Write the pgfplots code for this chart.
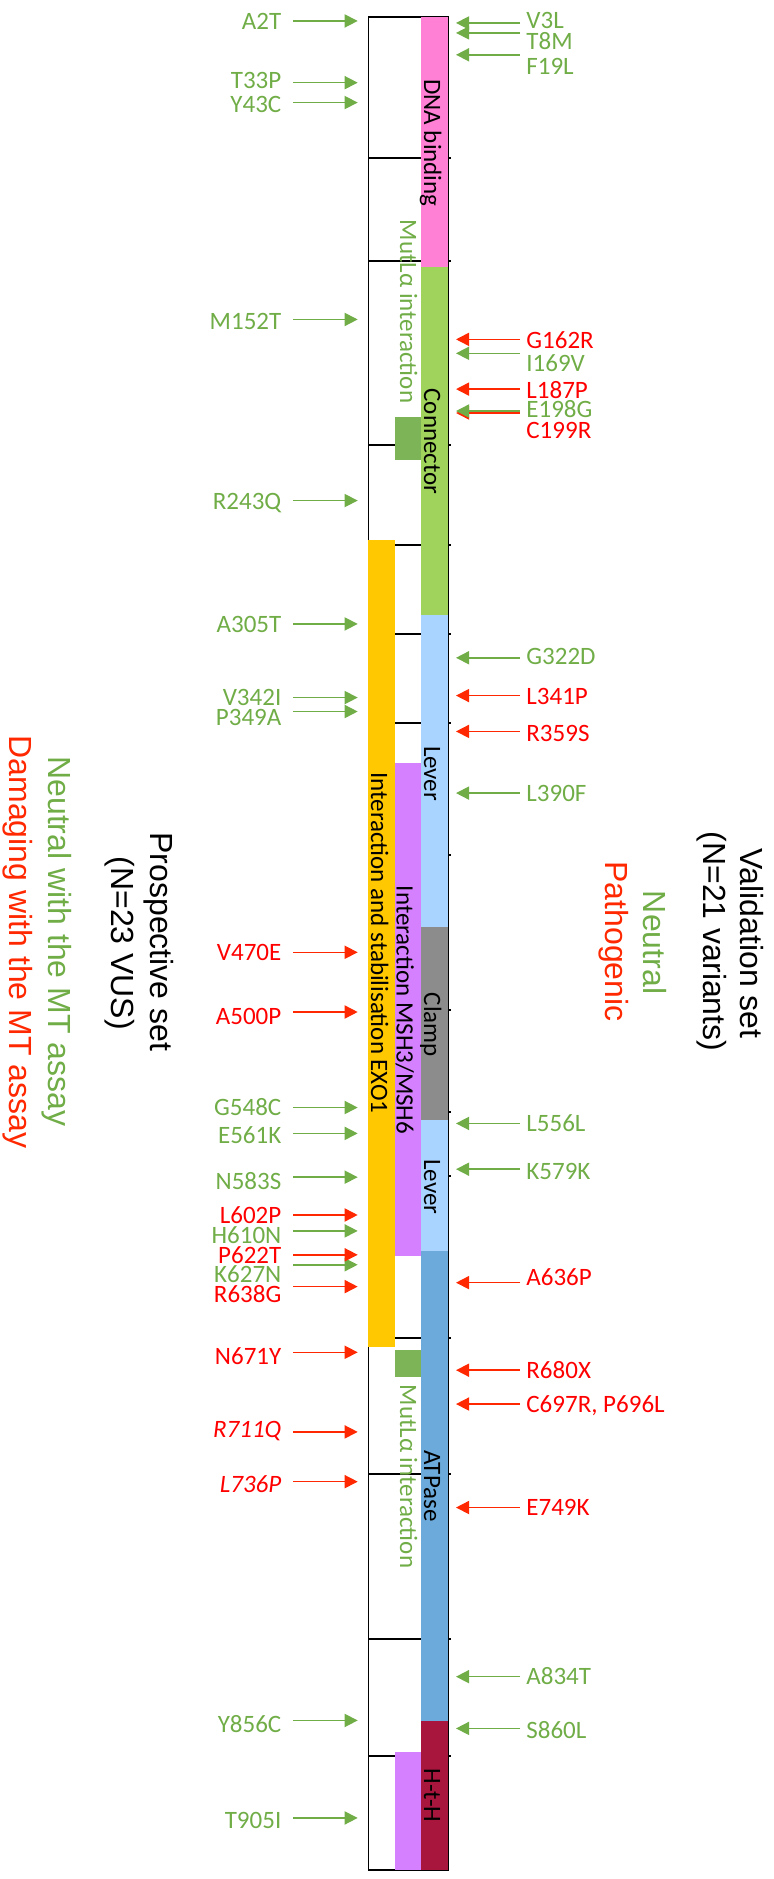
\documentclass[border=0pt]{standalone}
\usepackage{pgfplots}
\pgfplotsset{compat=1.18}
\usepackage{pgfplotstable}
\usepackage{fontspec}
\setmainfont{Carlito}
\newfontfamily\arialfont{Liberation Sans}
\usetikzlibrary{arrows.meta}
\definecolor{ngreen}{RGB}{112,173,71}
\definecolor{nred}{RGB}{255,0,0}
\definecolor{ared}{RGB}{255,40,0}
\definecolor{cpink}{RGB}{255,128,213}
\definecolor{cconn}{RGB}{160,211,92}
\definecolor{clever}{RGB}{168,212,255}
\definecolor{cclamp}{RGB}{140,140,140}
\definecolor{catp}{RGB}{107,170,218}
\definecolor{chth}{RGB}{168,22,62}
\definecolor{cyellow}{RGB}{255,200,0}
\definecolor{cpurple}{RGB}{213,128,255}
\definecolor{cmutl}{RGB}{125,180,88}
\newcommand{\lblfont}{\fontsize{12.5}{15}\selectfont}
\newcommand{\ttlfont}{\arialfont\fontsize{16}{19}\selectfont}

% prospective set (left), neutral
\pgfplotstableread[col sep=semicolon]{
pos;lab;name
2;2.9;A2T
33;32.8;T33P
43;44.7;Y43C
152;154;M152T
243;244.4;R243Q
305;306;A305T
342;342.9;V342I
349;352.9;P349A
548;548.9;G548C
561;562.6;E561K
583;585.8;N583S
610;613.2;H610N
627;632.5;K627N
856;858.7;Y856C
905;907.2;T905I
}\leftG
% prospective set, damaging
\pgfplotstableread[col sep=semicolon]{
pos;lab;name
470;471;V470E
500;503;A500P
602;603.2;L602P
622;623;P622T
638;642.6;R638G
671;674;N671Y
}\leftR
\pgfplotstableread[col sep=semicolon]{
pos;lab;name
711;710.4;R711Q
736;738;L736P
}\leftRi
% validation set, neutral
\pgfplotstableread[col sep=semicolon]{
pos;lab;name
3;2.5;V3L
8;13.1;T8M
19;25.6;F19L
169;174.9;I169V
322;322.1;G322D
390;391;L390F
556;556.8;L556L
579;580.8;K579K
834;834.7;A834T
860;861.7;S860L
}\rightG
% validation set, pathogenic
\pgfplotstableread[col sep=semicolon]{
pos;lab;name
162;163.3;G162R
187;188.4;L187P
199;208.4;C199R
341;342.2;L341P
359;360.8;R359S
636;634.2;A636P
680;680.8;R680X
697;698;{C697R, P696L}
749;749.7;E749K
}\rightR
\pgfplotstableread[col sep=semicolon]{
pos;lab;name
198;197.8;E198G
}\rightGb
% exon boundaries
\pgfplotstableread{
pos
70.9
122.6
215.1
265.3
310.1
354.8
421.1
499
550.3
582.4
663.8
732.2
815.1
873.9
}\exons

\newcommand{\rect}[5]{\addplot[fill=#5, draw=none] coordinates {(#1,#3) (#2,#3) (#2,#4) (#1,#4)};}

\pgfplotsset{
  larrow/.style={line width=0.8pt, -{Triangle[length=6.6pt,width=6.6pt]}, quiver={u=64.7,v=0}},
  rarrow/.style={line width=0.8pt, -{Triangle[length=6.6pt,width=6.6pt]}, quiver={u=-64,v=0}},
  llab/.style={draw=none, point meta=explicit symbolic, nodes near coords,
     every node near coord/.append style={anchor=east, inner sep=0pt, font=\lblfont, text height=0.644em, text depth=0pt, text=#1}},
  rlab/.style={draw=none, point meta=explicit symbolic, nodes near coords,
     every node near coord/.append style={anchor=west, inner sep=0pt, font=\lblfont, text height=0.644em, text depth=0pt, text=#1}},
}

\begin{document}
\begin{tikzpicture}
\begin{axis}[scale only axis, width=387pt, height=939.5pt,
  xmin=0, xmax=774, ymin=-8.54, ymax=935.68, y dir=reverse,
  hide axis, clip=false]
% box and exon lines
\addplot[black, line width=0.7pt, line cap=rect] coordinates {(368.3,0) (448.3,0) (448.3,931.2) (368.3,931.2) (368.3,0)};
\addplot[black, line width=0.75pt, quiver={u=83,v=0}] table[x expr=368.3, y=pos] {\exons};
% domain bars
\rect{367.6}{395}{262.8}{668.3}{cyellow}
\rect{421}{448.3}{0}{125.6}{cpink}
\rect{421}{448.3}{125.6}{300.5}{cconn}
\rect{421}{448.3}{300.5}{457.3}{clever}
\rect{421}{448.3}{457.3}{554.3}{cclamp}
\rect{421}{448.3}{554.3}{620.1}{clever}
\rect{421}{448.3}{620.1}{856.3}{catp}
\rect{421}{448.3}{856.3}{931.2}{chth}
\rect{395}{421}{201}{222.6}{cmutl}
\rect{395}{421}{374.9}{622.6}{cpurple}
\rect{395}{421}{669.8}{683.4}{cmutl}
\rect{395}{421}{871.9}{931.2}{cpurple}
\addplot[black, line width=0.7pt] coordinates {(448.3,0) (448.3,931.2)};
% arrows
\addplot[ngreen, larrow] table[x expr=293, y=pos] {\leftG};
\addplot[ared, larrow] table[x expr=293, y=pos] {\leftR};
\addplot[ared, larrow] table[x expr=293, y=pos] {\leftRi};
\addplot[ared, rarrow] table[x expr=520, y=pos] {\rightR};
\addplot[ngreen, rarrow] table[x expr=520, y=pos] {\rightG};
\addplot[ngreen, rarrow] table[x expr=520, y=pos] {\rightGb};
% arrow labels
\addplot[llab=ngreen] table[x expr=281.7, y=lab, meta=name] {\leftG};
\addplot[llab=nred] table[x expr=281.7, y=lab, meta=name] {\leftR};
\addplot[llab=nred, every node near coord/.append style={font=\lblfont\itshape}] table[x expr=281.7, y=lab, meta=name] {\leftRi};
\addplot[rlab=ngreen] table[x expr=526, y=lab, meta=name] {\rightG};
\addplot[rlab=nred] table[x expr=526, y=lab, meta=name] {\rightR};
\addplot[rlab=ngreen] table[x expr=526, y=lab, meta=name] {\rightGb};
% domain labels
\begin{scope}[every node/.style={rotate=-90, anchor=base, font=\lblfont, inner sep=0pt}]
\node at (axis cs:424,63.3) {DNA binding};
\node at (axis cs:424,213.3) {Connector};
\node at (axis cs:424,380.2) {Lever};
\node at (axis cs:424,506.5) {Clamp};
\node at (axis cs:424,587.9) {Lever};
\node at (axis cs:424,738.2) {ATPase};
\node at (axis cs:424,893.7) {H-t-H};
\node at (axis cs:396.7,499) {Interaction MSH3/MSH6};
\node at (axis cs:371,465.3) {Interaction and stabilisation EXO1};
\node[text=ngreen] at (axis cs:400,148) {MutLα interaction};
\node[text=ngreen] at (axis cs:400,733.4) {MutLα interaction};
\end{scope}
% titles
\begin{scope}[every node/.style={rotate=-90, anchor=base, font=\ttlfont, inner sep=0pt}]
\node at (axis cs:150,464.8) {Prospective set};
\node at (axis cs:111.7,465.5) {(N=23 VUS)};
\node[text=ngreen] at (axis cs:48.3,464.5) {Neutral with the MT assay};
\node[text=ared] at (axis cs:10,464.8) {Damaging with the MT assay};
\node at (axis cs:740,465.6) {Validation set};
\node at (axis cs:703.3,464.6) {(N=21 variants)};
\node[text=ngreen] at (axis cs:643.3,465.1) {Neutral};
\node[text=ared] at (axis cs:605.7,464.6) {Pathogenic};
\end{scope}
\end{axis}
\path (current axis.south west) rectangle (current axis.north east);
\end{tikzpicture}
\end{document}
